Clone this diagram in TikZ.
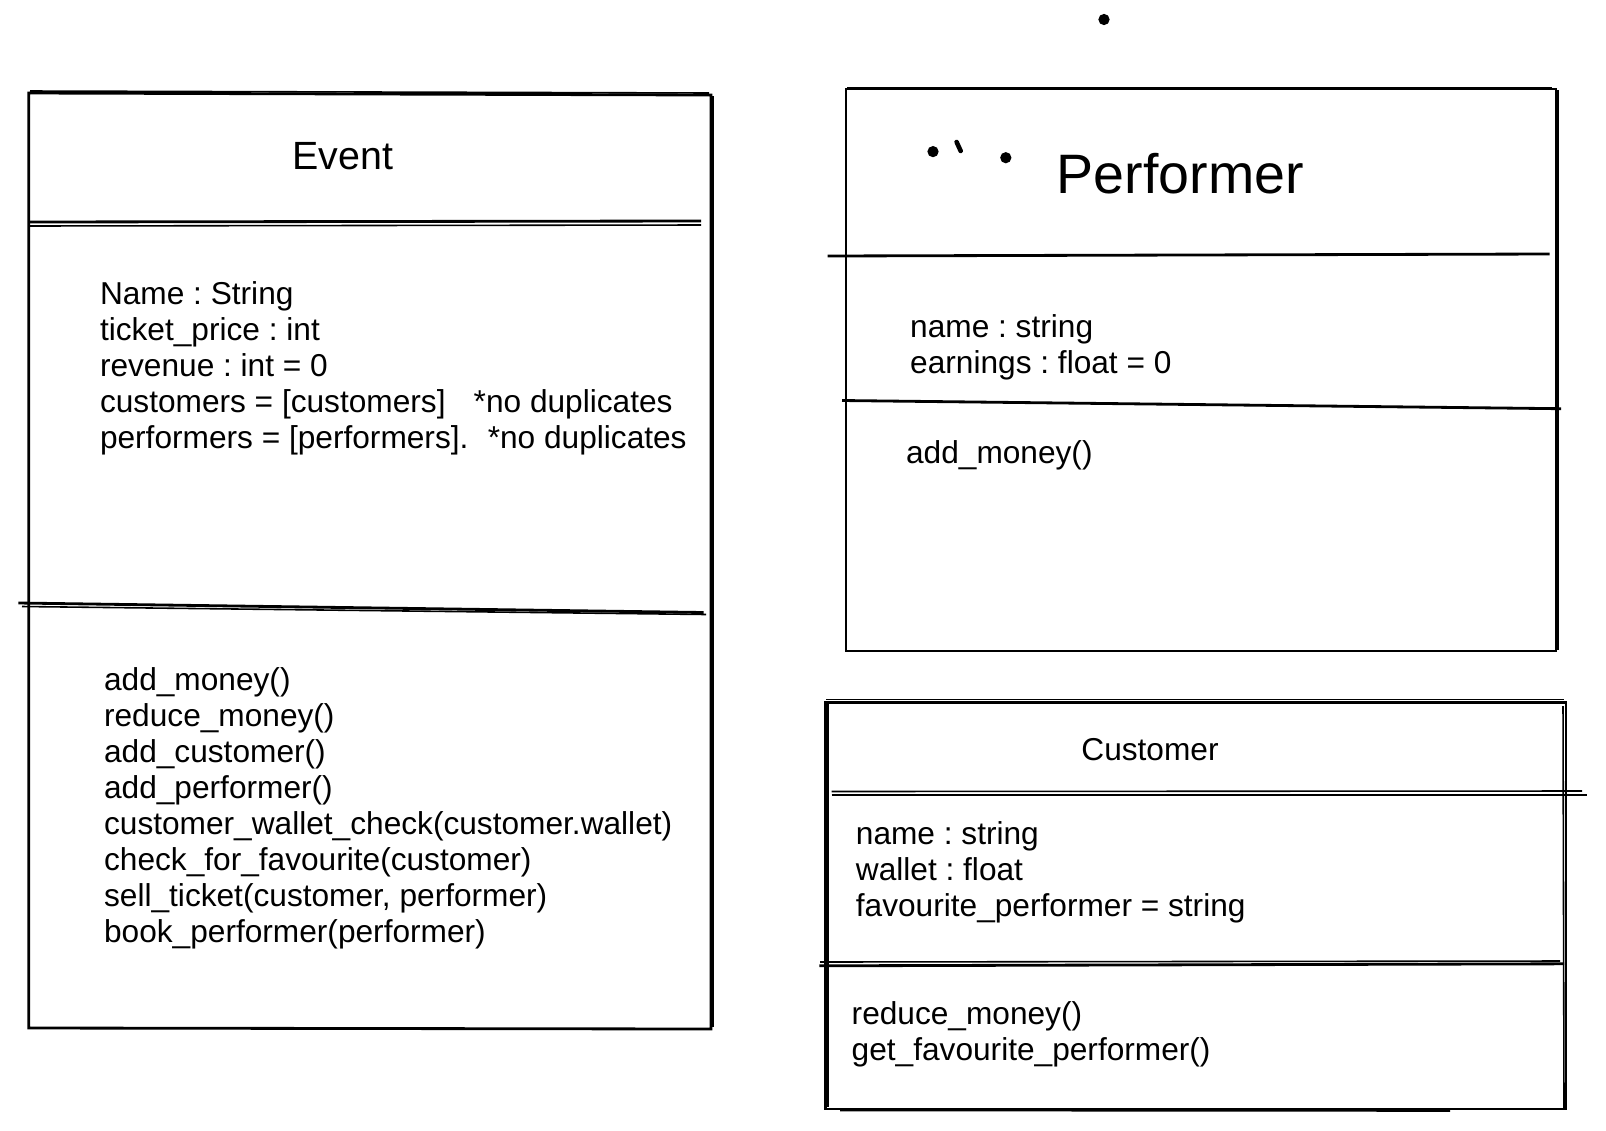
\documentclass[tikz,border=0pt]{standalone}
\usepackage{fontspec}
\setmainfont{Liberation Sans}
\usetikzlibrary{positioning}
\frenchspacing

\begin{document}
\begin{tikzpicture}[x=0.01cm,y=-0.01cm]
 \tikzstyle{pen} = [line width=0.8pt]
 \tikzstyle{thin pen} = [line width=0.45pt]
 \tikzstyle{body} = [inner sep=0pt,anchor=west,align=left,
   font=\fontsize{9}{10.25}\selectfont]
 \tikzstyle{title} = [inner sep=0pt]
 \useasboundingbox (0,0) rectangle (1606,1130);
 % Event
 \draw [pen] (28.7,93) -- (711,95) -- (711,1029) -- (28.7,1028) -- cycle;
 \draw [thin pen] (30,91) -- (709,93);
 \draw [thin pen] (713,96) -- (713,1027);
 \draw [pen] (28.7,222) -- (701,221);
 \draw [thin pen] (28.7,226) -- (701,225);
 \draw [pen] (18.4,603) -- (703.6,612.5);
 \draw [thin pen] (22,606.5) -- (706,614.5);
 \node [title,font=\fontsize{11.2}{13}\selectfont] (evtitle) at (343,156) {Event};
 \node [body] (evattr) at (99.3,368.5) {Name : String\\
   ticket\_price : int\\
   revenue : int = 0\\
   customers = [customers]\hspace{8pt}*no duplicates\\
   performers = [performers].\hspace{5.5pt}*no duplicates};
 \node [body] (evmeth) at (103.4,808.5) {add\_money()\\
   reduce\_money()\\
   add\_customer()\\
   add\_performer()\\
   customer\_wallet\_check(customer.wallet)\\
   check\_for\_favourite(customer)\\
   sell\_ticket(customer, performer)\\
   book\_performer(performer)};
 % Performer
 \draw [pen] (846,89) -- (1556,89) -- (1556,651) -- (846,651) -- cycle;
 \draw [thin pen] (847,87.5) -- (1552,87.5);
 \draw [thin pen] (1558,90) -- (1558,650);
 \draw [pen] (827.5,256) -- (1549.6,254);
 \draw [pen] (842,400.5) -- (1561,408.7);
 \fill (933,151.6) circle [radius=1.6pt];
 \fill (1005.8,157.7) circle [radius=1.6pt];
 \draw [line width=1.3pt,line cap=round] (956.6,142) -- (960.7,151);
 \fill (1104,19.5) circle [radius=1.6pt];
 \node [title,anchor=west,font=\fontsize{15.8}{18}\selectfont] (pftitle)
   at (1056,174) {Performer};
 \node [body] (pfattr) at (909.5,347.6) {name : string\\
   earnings : float = 0};
 \node [body] (pfmeth) at (905.4,455.2) {add\_money()};
 % Customer
 \draw [pen] (825.5,702.6) -- (1566,702.6) -- (1566,1109) -- (825.5,1109) -- cycle;
 \draw [thin pen] (826,699.5) -- (1564,699.5);
 \draw [thin pen] (828,704) -- (828,1107);
 \draw [thin pen] (1563,706) -- (1564,1108);
 \draw [thin pen] (840,1110.5) -- (1450,1111);
 \draw [pen] (831.6,795) -- (1586.5,795);
 \draw [thin pen] (831.6,791.5) -- (1582,791);
 \draw [pen] (819.4,965.8) -- (1564,963.8);
 \draw [thin pen] (820,962) -- (1560,961);
 \node [title,font=\fontsize{9}{11}\selectfont] (cutitle) at (1150,749.5) {Customer};
 \node [body] (cuattr) at (855.2,872.5) {name : string\\
   wallet : float\\
   favourite\_performer = string};
 \node [body] (cumeth) at (851,1034.5) {reduce\_money()\\
   get\_favourite\_performer()};
\end{tikzpicture}
\end{document}
